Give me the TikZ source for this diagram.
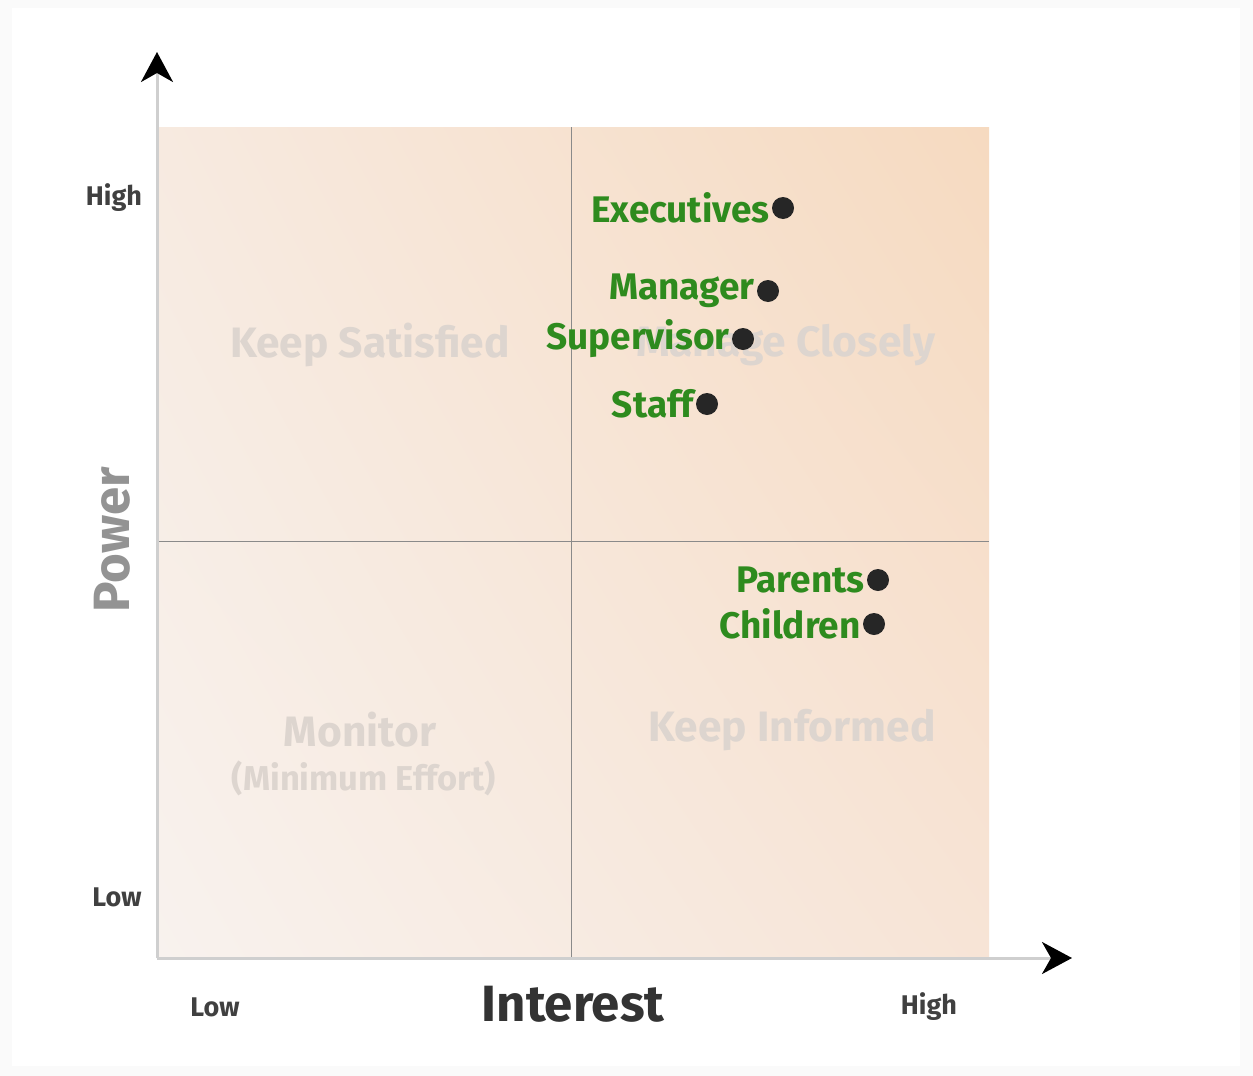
\documentclass[tikz,border=0pt]{standalone}
\usepackage{fontspec}
\setmainfont{Fira Sans}
\usetikzlibrary{arrows.meta,shadings}
\definecolor{bgc}{HTML}{FAFAFA}
\definecolor{peachTR}{HTML}{F6DAC0}
\definecolor{peachBL}{HTML}{F8F2EE}
\definecolor{peachTL}{HTML}{F7EAE0}
\definecolor{peachBR}{HTML}{F7E4D6}
\definecolor{axisgray}{HTML}{CFCFCF}
\definecolor{divgray}{HTML}{8A8A8A}
\definecolor{stakegreen}{HTML}{2E8B1E}
\definecolor{faint}{HTML}{DDD5CF}
\definecolor{ticktext}{HTML}{404040}
\tikzset{
  stakedot/.style={circle,fill=black!85,inner sep=0pt,minimum size=22pt},
  stakelabel/.style={anchor=east,inner sep=1pt,text=stakegreen,font=\fontsize{37}{40}\selectfont\bfseries},
  quadlabel/.style={text=faint,font=\fontsize{42.5}{46}\selectfont\bfseries},
  levellabel/.style={text=ticktext,font=\fontsize{27}{30}\selectfont\bfseries},
  axistitle/.style={font=\fontsize{51}{55}\selectfont\bfseries},
  axisline/.style={draw=axisgray,line width=3pt},
  divider/.style={draw=divgray,line width=0.8pt}
}
\begin{document}
\begin{tikzpicture}[x=1pt,y=-1pt]
\useasboundingbox (0,0) rectangle (1253,1076);
\fill[bgc] (0,0) rectangle (1253,1076);
\fill[white] (12,8) rectangle (1240,1066);
% gradient field
\shade[upper right=peachTR,lower left=peachBL,upper left=peachTL,lower right=peachBR]
  (157,958) rectangle (989,127);
% dividers
\coordinate (vtop) at (571,127);
\coordinate (vbot) at (571,958);
\coordinate (hl) at (157,541);
\coordinate (hr) at (989,541);
\draw[divider] (vtop) -- (vbot);
\draw[divider] (hl) -- (hr);
% axes
\coordinate (origin) at (157,958);
\coordinate (ytip) at (157,52);
\coordinate (xtip) at (1072,958);
\draw[axisline,-{Stealth[black,length=30pt,width=32pt,inset=9pt]}] (origin) -- (ytip);
\draw[axisline,-{Stealth[black,length=30pt,width=32pt,inset=9pt]}] (origin) -- (xtip);
% axis titles
\node[axistitle,text=gray!85,rotate=90] (power) at (112,540) {Power};
\node[axistitle,text=black!80] (interest) at (573,1004) {Interest};
% level labels
\node[levellabel] (yhigh) at (114,198) {High};
\node[levellabel] (ylow) at (117,897) {Low};
\node[levellabel] (xlow) at (215,1007) {Low};
\node[levellabel] (xhigh) at (929,1007) {High};
% quadrant labels
\node[quadlabel] (q1) at (370,345) {Keep Satisfied};
\node[quadlabel] (q2) at (786,345) {Manage Closely};
\node[quadlabel] (q3) at (360,730) {Monitor};
\node[quadlabel,font=\fontsize{34.5}{38}\selectfont\bfseries] (q3b) at (364,778) {(Minimum Effort)};
\node[quadlabel] (q4) at (792,730) {Keep Informed};
% stakeholders
\node[stakedot] (dexe) at (783,208) {};
\node[stakelabel] (lexe) at ([xshift=-1pt]dexe.west) {Executives};
\node[stakedot] (dman) at (768,291) {};
\node[stakelabel] (lman) at ([xshift=-1pt]dman.west) {Manager};
\node[stakedot] (dsup) at (743,339) {};
\node[stakelabel] (lsup) at ([xshift=-1pt]dsup.west) {Supervisor};
\node[stakedot] (dsta) at (707,404) {};
\node[stakelabel] (lsta) at ([xshift=-1pt]dsta.west) {Staff};
\node[stakedot] (dpar) at (878,580) {};
\node[stakelabel] (lpar) at ([xshift=-1pt]dpar.west) {Parents};
\node[stakedot] (dchi) at (874,624) {};
\node[stakelabel] (lchi) at ([xshift=-1pt]dchi.west) {Children};
\end{tikzpicture}
\end{document}
